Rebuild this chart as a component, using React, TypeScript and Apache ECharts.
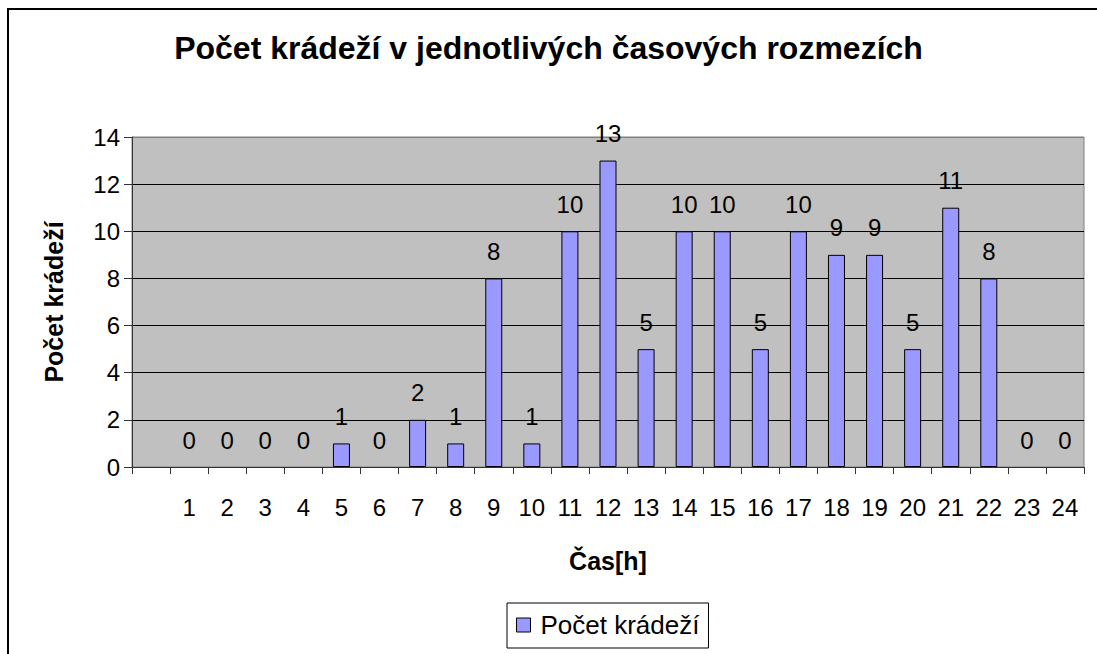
import React, { useEffect, useRef } from "react";
import * as echarts from "echarts";

const categories = ["", "1", "2", "3", "4", "5", "6", "7", "8", "9", "10", "11", "12", "13", "14", "15", "16", "17", "18", "19", "20", "21", "22", "23", "24"];
const theftCounts = [null, 0, 0, 0, 0, 1, 0, 2, 1, 8, 1, 10, 13, 5, 10, 10, 5, 10, 9, 9, 5, 11, 8, 0, 0];
const seriesName = "Počet krádeží";
const titleText = "Počet krádeží v jednotlivých časových rozmezích";
const xName = "Čas[h]";
const yName = "Počet krádeží";

const FONT = "'Liberation Sans', Arial, sans-serif";

export default function App() {
  const ref = useRef<HTMLDivElement>(null);
  useEffect(() => {
    if (!ref.current) return;
    const chart = echarts.init(ref.current, null, { renderer: "svg" });
    const barData = theftCounts.map((v) =>
      v === 0 ? { value: 0, itemStyle: { borderWidth: 0, color: "rgba(0,0,0,0)" } } : v
    );
    chart.setOption({
      animation: false,
      backgroundColor: "#ffffff",
      textStyle: { fontFamily: FONT },
      title: {
        text: titleText,
        left: "center",
        top: 27,
        textStyle: { fontFamily: FONT, fontSize: 32, fontWeight: "bold", color: "#000" },
      },
      graphic: [
        {
          type: "rect",
          shape: { x: 8, y: 9, width: 1200, height: 800 },
          style: { fill: "none", stroke: "#000", lineWidth: 2 },
          silent: true,
        },
      ],
      grid: {
        left: 132,
        right: 13,
        top: 137,
        bottom: 187,
        show: true,
        backgroundColor: "#c0c0c0",
        borderColor: "#808080",
        borderWidth: 1,
      },
      legend: {
        left: 507,
        top: 603,
        padding: [9, 9, 10, 9],
        backgroundColor: "#fff",
        borderColor: "#000",
        borderWidth: 1,
        itemWidth: 14,
        itemHeight: 14,
        icon: "rect",
        itemStyle: { borderColor: "#000", borderWidth: 1 },
        textStyle: { fontFamily: FONT, fontSize: 26, color: "#000", padding: [0, 0, 0, 5] },
        data: [seriesName],
      },
      xAxis: {
        type: "category",
        data: categories,
        name: xName,
        nameLocation: "middle",
        nameGap: 81,
        nameTextStyle: { fontFamily: FONT, fontSize: 25, fontWeight: "bold", color: "#000" },
        axisLine: { lineStyle: { color: "#333", width: 1 } },
        axisTick: { show: true, length: 7, interval: 0, lineStyle: { color: "#333" } },
        axisLabel: { interval: 0, margin: 28, fontSize: 24, color: "#000", fontFamily: FONT },
        splitLine: { show: false },
      },
      yAxis: {
        type: "value",
        min: 0,
        max: 14,
        interval: 2,
        name: yName,
        nameLocation: "middle",
        nameGap: 66,
        nameRotate: 90,
        nameTextStyle: { fontFamily: FONT, fontSize: 25, fontWeight: "bold", color: "#000" },
        axisLine: { show: true, lineStyle: { color: "#333", width: 1 } },
        axisTick: { show: true, length: 8, lineStyle: { color: "#333" } },
        axisLabel: { margin: 12, fontSize: 24, color: "#000", fontFamily: FONT },
        splitLine: {
          show: true,
          lineStyle: {
            color: ["#808080", "#000", "#000", "#000", "#000", "#000", "#000", "#808080"],
            width: 1,
          },
        },
      },
      series: [
        {
          name: seriesName,
          type: "bar",
          data: barData,
          barWidth: 17,
          itemStyle: { color: "#9999ff", borderColor: "#000", borderWidth: 1 },
          label: {
            show: true,
            position: "top",
            distance: 15,
            fontSize: 24,
            color: "#000",
            fontFamily: FONT,
          },
        },
      ],
    });
    return () => chart.dispose();
  }, []);
  return (
    <div
      ref={ref}
      style={{ position: "absolute", left: 0, top: 0, width: 1097, height: 654 }}
    />
  );
}
